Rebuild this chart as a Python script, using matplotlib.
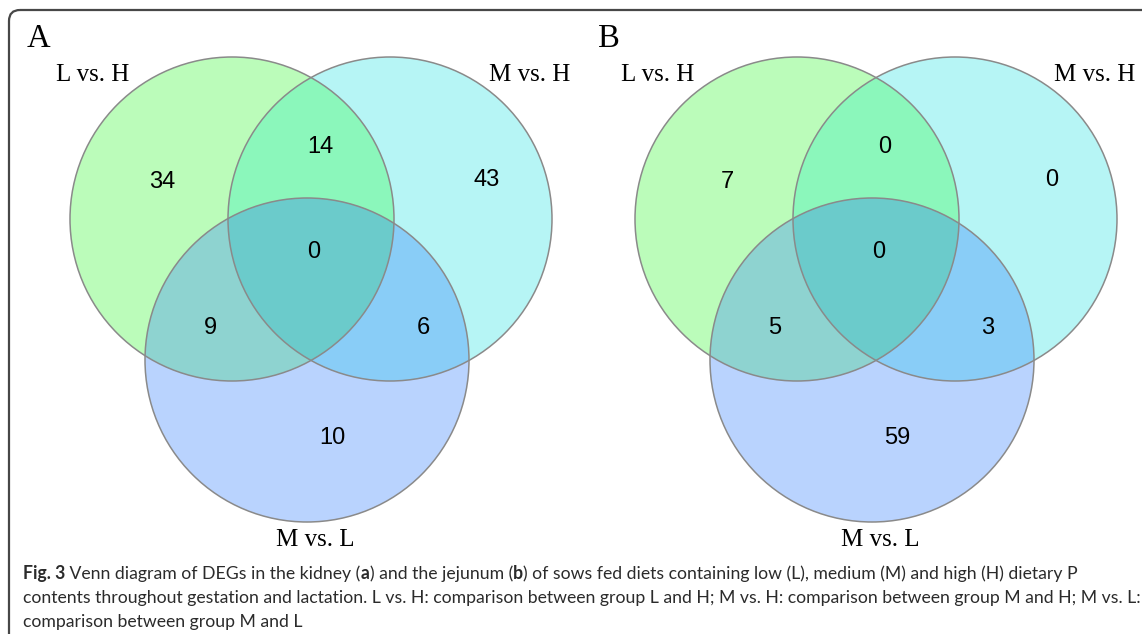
import numpy as np
import matplotlib
matplotlib.use("Agg")
import matplotlib.pyplot as plt
from matplotlib.patches import Circle, Polygon, FancyBboxPatch

# ---- data -------------------------------------------------------------
set_labels = ["L vs. H", "M vs. H", "M vs. L"]
panel_letters = ["A", "B"]
# region order: L only, M only, ML only, L&M, L&ML, M&ML, all three
region_keys = [(0,), (1,), (2,), (0, 1), (0, 2), (1, 2), (0, 1, 2)]
kidney_counts = [34, 43, 10, 14, 9, 6, 0]
jejunum_counts = [7, 0, 59, 0, 5, 3, 0]
panel_counts = [kidney_counts, jejunum_counts]

caption_lines = [
    [("Fig. 3", "bold"), (" Venn diagram of DEGs in the kidney (", "normal"), ("a", "bold"),
     (") and the jejunum (", "normal"), ("b", "bold"),
     (") of sows fed diets containing low (L), medium (M) and high (H) dietary P", "normal")],
    [("contents throughout gestation and lactation. L vs. H: comparison between group L and H; "
      "M vs. H: comparison between group M and H; M vs. L:", "normal")],
    [("comparison between group M and L", "normal")],
]

# ---- layout (pixel coordinates, origin top-left) ------------------------
W, H = 1142, 634
R = 162
circle_centers = [(232, 219), (390, 219), (307, 360)]
panel_dx = [0, 565]
letter_x = [27, 598]
count_pos = {(0,): (162, 182), (1,): (487, 180), (2,): (332, 438),
             (0, 1): (320, 147), (0, 2): (210, 328), (1, 2): (423, 328),
             (0, 1, 2): (314, 252)}
label_pos = [(93, 75), (530, 75), (315, 540)]

single_colors = ["#BBFCBA", "#B6F5F5", "#B9D3FE"]
pair_colors = {(0, 1): "#8BF7BB", (0, 2): "#8ED3D0", (1, 2): "#89CDF7"}
triple_color = "#6BCBCB"
edge_color = "#8A8A8A"

fig = plt.figure(figsize=(W / 100, H / 100), dpi=100)
ax = fig.add_axes([0, 0, 1, 1])
ax.set_xlim(0, W)
ax.set_ylim(H, 0)
ax.set_aspect("equal")
ax.axis("off")

# outer frame, cropped at right and bottom
ax.add_patch(FancyBboxPatch((9, 10), 1200, 700,
                            boxstyle="round,pad=0,rounding_size=11",
                            fill=False, edgecolor="#474747", linewidth=1.6,
                            zorder=0))


def intersection_polygon(centers):
    """Convex outline of the intersection of equal-radius circles."""
    pts = []
    theta = np.linspace(0, 2 * np.pi, 1440, endpoint=False)
    for i, (cx, cy) in enumerate(centers):
        px = cx + R * np.cos(theta)
        py = cy + R * np.sin(theta)
        keep = np.ones_like(px, dtype=bool)
        for j, (ox, oy) in enumerate(centers):
            if j != i:
                keep &= (px - ox) ** 2 + (py - oy) ** 2 <= (R * 1.0005) ** 2
        pts.append(np.column_stack([px[keep], py[keep]]))
    pts = np.vstack(pts)
    m = pts.mean(axis=0)
    order = np.argsort(np.arctan2(pts[:, 1] - m[1], pts[:, 0] - m[0]))
    return pts[order]


for p, counts in enumerate(panel_counts):
    dx = panel_dx[p]
    cents = [(cx + dx, cy) for cx, cy in circle_centers]

    for k, c in enumerate(cents):
        ax.add_patch(Circle(c, R, facecolor=single_colors[k], edgecolor="none", zorder=1))
    for key, col in pair_colors.items():
        poly = intersection_polygon([cents[i] for i in key])
        ax.add_patch(Polygon(poly, closed=True, facecolor=col, edgecolor="none", zorder=2))
    poly = intersection_polygon(cents)
    ax.add_patch(Polygon(poly, closed=True, facecolor=triple_color, edgecolor="none", zorder=3))
    for c in cents:
        ax.add_patch(Circle(c, R, fill=False, edgecolor=edge_color, linewidth=1.1, zorder=4))

    for key, val in zip(region_keys, counts):
        x, y = count_pos[key]
        ax.text(x + dx, y, str(val), ha="center", va="center", fontsize=17,
                family="Liberation Sans", color="black", zorder=5)

    for (x, y), lab in zip(label_pos, set_labels):
        ax.text(x + dx, y, lab, ha="center", va="center", fontsize=18,
                family="Liberation Serif", color="black", zorder=5)

    ax.text(letter_x[p], 39, panel_letters[p], ha="left", va="center", fontsize=23.5,
            family="Liberation Serif", color="black", zorder=5)

# caption with mixed-weight runs
fig.canvas.draw()
renderer = fig.canvas.get_renderer()
inv = ax.transData.inverted()
cap_family = "Lato"
cap_left = 23
cap_right = 1139


def run_width(txt, weight, size):
    t = ax.text(0, 0, txt, fontsize=size, family=cap_family, fontweight=weight)
    bb = t.get_window_extent(renderer=renderer)
    t.remove()
    return inv.transform((bb.x1, bb.y0))[0] - inv.transform((bb.x0, bb.y0))[0]


# size the caption so its longest line spans the frame width
probe = 13.0
widest = max(sum(run_width(t, w, probe) for t, w in line) for line in caption_lines)
cap_font = probe * (cap_right - cap_left) / widest

baselines = [579, 603, 627]
for line, yb in zip(caption_lines, baselines):
    x = cap_left
    for txt, weight in line:
        ax.text(x, yb, txt, ha="left", va="baseline", fontsize=cap_font,
                family=cap_family, fontweight=weight, color="#2b2b2b", zorder=5)
        x += run_width(txt, weight, cap_font)

fig.savefig("out.png", dpi=100)
